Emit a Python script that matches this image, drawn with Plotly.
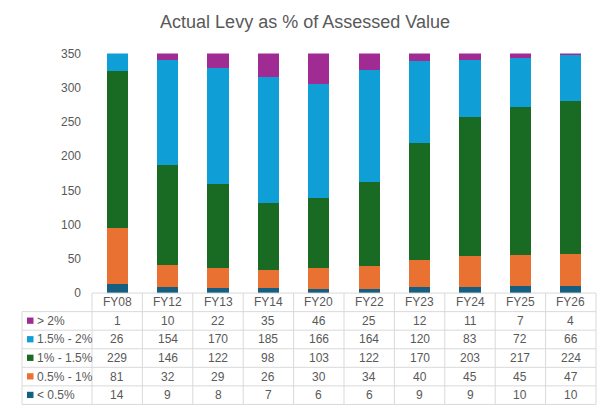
import plotly.graph_objects as go

categories = ["FY08", "FY12", "FY13", "FY14", "FY20", "FY22", "FY23", "FY24", "FY25", "FY26"]
series_names = ["< 0.5%", "0.5% - 1%", "1% - 1.5%", "1.5% - 2%", "> 2%"]
lt_05 = [14, 9, 8, 7, 6, 6, 9, 9, 10, 10]
p05_1 = [81, 32, 29, 26, 30, 34, 40, 45, 45, 47]
p1_15 = [229, 146, 122, 98, 103, 122, 170, 203, 217, 224]
p15_2 = [26, 154, 170, 185, 166, 164, 120, 83, 72, 66]
gt_2 = [1, 10, 22, 35, 46, 25, 12, 11, 7, 4]
series_values = [lt_05, p05_1, p1_15, p15_2, gt_2]
colors = ["#156082", "#E97132", "#196B24", "#0F9ED5", "#A02B93"]
y_ticks = [0, 50, 100, 150, 200, 250, 300, 350]

W, H = 610, 418
FONT = "Liberation Sans"
TXT = "#595959"
GRID = "#D9D9D9"

def px(x):
    return x / W

def py(y):
    return 1 - y / H

# geometry (pixels)
plot_left, plot_right = 92, 596
plot_top, plot_bottom = 48, 296
table_left = 22
row_h = 19.2
n = len(categories)
col_w = (plot_right - plot_left) / n

fig = go.Figure()
for name, vals, c in zip(series_names, series_values, colors):
    fig.add_trace(go.Bar(x=categories, y=vals, name=name, marker=dict(color=c, line=dict(width=0)),
                         showlegend=False))

shapes = []
annotations = []
# header top line
shapes.append(dict(type="line", xref="paper", yref="paper", x0=px(plot_left), x1=px(plot_right),
                   y0=py(plot_bottom), y1=py(plot_bottom), line=dict(color=GRID, width=1)))
# horizontal row lines
n_rows = len(series_names)
for r in range(n_rows + 1):
    yy = plot_bottom + row_h * (r + 1)
    shapes.append(dict(type="line", xref="paper", yref="paper", x0=px(table_left), x1=px(plot_right),
                       y0=py(yy), y1=py(yy), line=dict(color=GRID, width=1)))
# vertical lines
bottom = plot_bottom + row_h * (n_rows + 1)
for i in range(n + 1):
    xx = plot_left + col_w * i
    shapes.append(dict(type="line", xref="paper", yref="paper", x0=px(xx), x1=px(xx),
                       y0=py(plot_bottom), y1=py(bottom), line=dict(color=GRID, width=1)))
shapes.append(dict(type="line", xref="paper", yref="paper", x0=px(table_left), x1=px(table_left),
                   y0=py(plot_bottom + row_h), y1=py(bottom), line=dict(color=GRID, width=1)))

# header labels
for i, cat in enumerate(categories):
    annotations.append(dict(xref="paper", yref="paper", x=px(plot_left + col_w * (i + 0.5)),
                            y=py(plot_bottom + row_h * 0.5), text=cat, showarrow=False,
                            xanchor="center", yanchor="middle", font=dict(size=12, color=TXT, family=FONT)))

# rows (top row is last series)
for r, idx in enumerate(reversed(range(n_rows))):
    yc = plot_bottom + row_h * (r + 1.5)
    # legend key
    shapes.append(dict(type="rect", xref="paper", yref="paper", x0=px(27), x1=px(33.5),
                       y0=py(yc - 3.5), y1=py(yc + 3), fillcolor=colors[idx], line=dict(width=0)))
    annotations.append(dict(xref="paper", yref="paper", x=px(35), y=py(yc), text=series_names[idx],
                            showarrow=False, xanchor="left", yanchor="middle",
                            font=dict(size=12, color=TXT, family=FONT)))
    for i, v in enumerate(series_values[idx]):
        annotations.append(dict(xref="paper", yref="paper", x=px(plot_left + col_w * (i + 0.5)), y=py(yc),
                                text=str(v), showarrow=False, xanchor="center", yanchor="middle",
                                font=dict(size=12, color=TXT, family=FONT)))

fig.update_layout(
    width=W, height=H,
    margin=dict(l=0, r=0, t=0, b=0),
    paper_bgcolor="white", plot_bgcolor="white",
    barmode="stack", bargap=0.58,
    title=dict(text="Actual Levy as % of Assessed Value", x=0.5, xanchor="center", y=py(22), yanchor="middle",
               font=dict(size=18, color=TXT, family=FONT)),
    xaxis=dict(domain=[px(plot_left), px(plot_right)], showticklabels=False, showgrid=False,
               showline=False, zeroline=False, ticks=""),
    yaxis=dict(domain=[py(plot_bottom), py(plot_top)], range=[0, 350], tickvals=y_ticks,
               showgrid=False, zeroline=False, showline=False, ticks="", ticklabelstandoff=10,
               tickfont=dict(size=12, color=TXT, family=FONT)),
    shapes=shapes, annotations=annotations,
)

fig.write_html("out.html")
